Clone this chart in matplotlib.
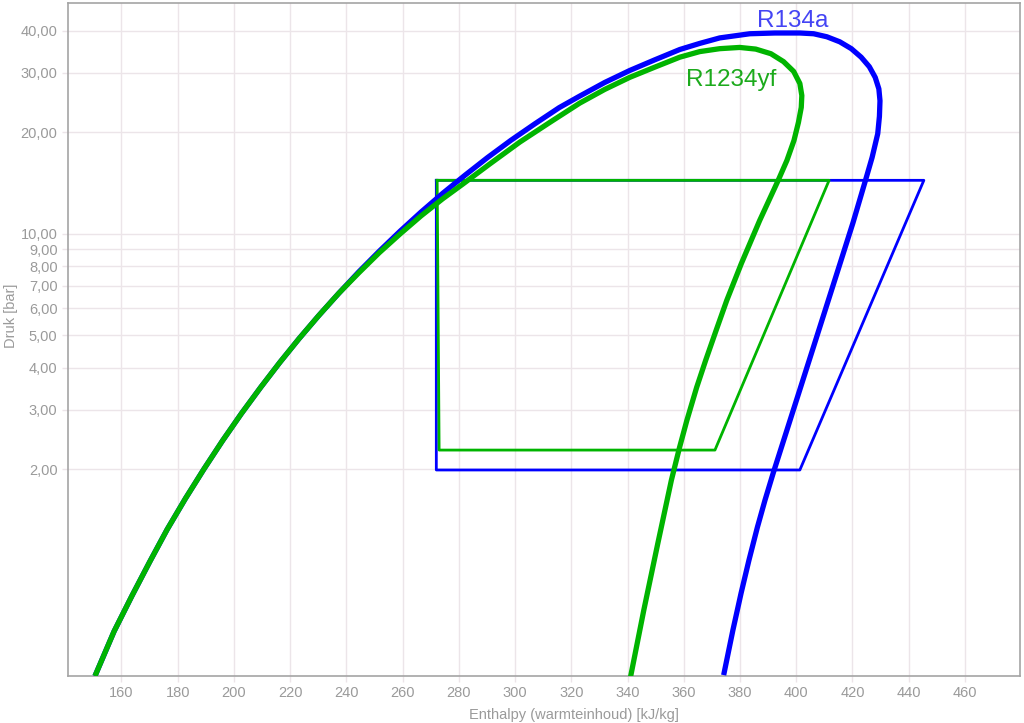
import matplotlib
matplotlib.use("Agg")
import matplotlib.pyplot as plt
from matplotlib.ticker import FixedLocator, FuncFormatter, NullLocator

plt.rcParams['font.family'] = ['Liberation Sans', 'DejaVu Sans']

r134a_h = [150.6, 157.4, 163.8, 170.1, 176.3, 182.8, 189.4, 196.0, 202.7, 209.5,
           216.3, 223.2, 230.2, 237.3, 244.4, 251.7, 259.1, 266.6, 274.3, 282.2,
           290.2, 298.5, 307.0, 315.7, 323.0, 331.9, 340.8, 349.7, 358.6, 365.7,
           372.8, 383.5, 392.4, 401.3, 406.2, 410.9, 415.5, 419.6, 423.1, 426.0,
           428.1, 429.4, 429.8, 429.6, 429.0, 427.0, 424.6, 420.2, 415.6, 406.1,
           398.6, 391.8, 388.9, 386.2, 383.2, 380.4, 377.5, 374.2]
r134a_p = [0.487, 0.661, 0.844, 1.064, 1.327, 1.639, 2.006, 2.433, 2.928, 3.497,
           4.146, 4.884, 5.717, 6.654, 7.702, 8.870, 10.17, 11.60, 13.18, 14.91,
           16.82, 18.92, 21.17, 23.66, 25.6, 28.1, 30.5, 32.8, 35.2, 36.7,
           38.1, 39.2, 39.4, 39.4, 39.2, 38.4, 37.1, 35.4, 33.4, 31.3,
           29.1, 26.9, 24.8, 22.3, 19.8, 16.84, 14.36, 10.78, 8.16, 4.60,
           2.93, 1.946, 1.619, 1.346, 1.075, 0.858, 0.667, 0.490]

r1234yf_h = [150.6, 157.4, 163.8, 170.1, 176.3, 182.8, 189.4, 196.0, 202.7, 209.5,
             216.3, 223.2, 230.2, 237.3, 244.4, 251.7, 259.1, 266.6, 274.3, 281.5,
             291.0, 301.7, 312.4, 323.0, 331.9, 340.8, 349.7, 358.6, 365.7, 372.8,
             379.9, 385.6, 391.0, 395.5, 399.1, 401.3, 402.0, 401.8, 400.8, 399.2,
             396.7, 393.6, 387.0, 380.5, 375.3, 371.5, 367.8, 364.6, 361.1, 358.5,
             355.6, 350.8, 345.8, 341.1]
r1234yf_p = [0.487, 0.661, 0.844, 1.064, 1.327, 1.639, 2.006, 2.433, 2.928, 3.497,
             4.146, 4.884, 5.717, 6.654, 7.65, 8.78, 9.98, 11.3, 12.7, 14.05,
             16.1, 18.7, 21.4, 24.4, 26.8, 29.1, 31.2, 33.4, 34.7, 35.4,
             35.7, 35.3, 34.2, 32.4, 30.3, 27.9, 25.7, 23.7, 21.4, 18.9,
             16.5, 14.4, 10.94, 8.16, 6.34, 5.16, 4.21, 3.50, 2.79, 2.32,
             1.855, 1.207, 0.764, 0.485]

# koelkringlopen
cycle_r134a_h = [272.0, 445.4, 401.3, 272.0, 272.0]
cycle_r134a_p = [14.4, 14.4, 1.99, 1.99, 14.4]
cycle_r1234yf_h = [272.3, 411.7, 371.1, 273.0, 272.3]
cycle_r1234yf_p = [14.4, 14.4, 2.28, 2.28, 14.4]

y_ticks = [2, 3, 4, 5, 6, 7, 8, 9, 10, 20, 30, 40]
x_ticks = list(range(160, 461, 20))

blue = '#0000ff'
green = '#00b400'
grey = '#9a9a9a'
gridc = '#ece5e9'

fig = plt.figure(figsize=(10.24, 7.23), dpi=100)
ax = fig.add_axes([0.0664, 0.065, 0.9297, 0.931])

ax.plot(cycle_r134a_h, cycle_r134a_p, color=blue, lw=2.0, zorder=2)
ax.plot(cycle_r1234yf_h, cycle_r1234yf_p, color=green, lw=2.0, zorder=2)
ax.plot(r134a_h, r134a_p, color=blue, lw=3.8, zorder=3,
        solid_capstyle='butt', solid_joinstyle='round')
ax.plot(r1234yf_h, r1234yf_p, color=green, lw=3.8, zorder=3,
        solid_capstyle='butt', solid_joinstyle='round')

ax.text(386.0, 41.0, 'R134a', color='#4444f4', fontsize=17.5, ha='left', va='baseline')
ax.text(360.7, 27.5, 'R1234yf', color='#1caa1c', fontsize=17.5, ha='left', va='baseline')

ax.set_yscale('log')
ax.set_xlim(141, 479.6)
ax.set_ylim(0.487, 48.4)
ax.yaxis.set_major_locator(FixedLocator(y_ticks))
ax.yaxis.set_minor_locator(NullLocator())
ax.yaxis.set_major_formatter(FuncFormatter(lambda v, pos: f"{v:.2f}".replace('.', ',')))
ax.xaxis.set_major_locator(FixedLocator(x_ticks))

ax.grid(True, color=gridc, lw=1.0, zorder=0)
ax.set_axisbelow(True)
ax.tick_params(axis='both', colors=gridc, labelcolor=grey, labelsize=10.5, length=4, width=1)
for s in ax.spines.values():
    s.set_color('#a4a4a4')
    s.set_linewidth(1.2)

ax.set_xlabel('Enthalpy (warmteinhoud) [kJ/kg]', color=grey, fontsize=10.5)
ax.set_ylabel('Druk [bar]', color=grey, fontsize=10.5)
ax.xaxis.set_label_coords(0.531, -0.047)
ax.yaxis.set_label_coords(-0.052, 0.535)

fig.savefig('out.png', dpi=100)
